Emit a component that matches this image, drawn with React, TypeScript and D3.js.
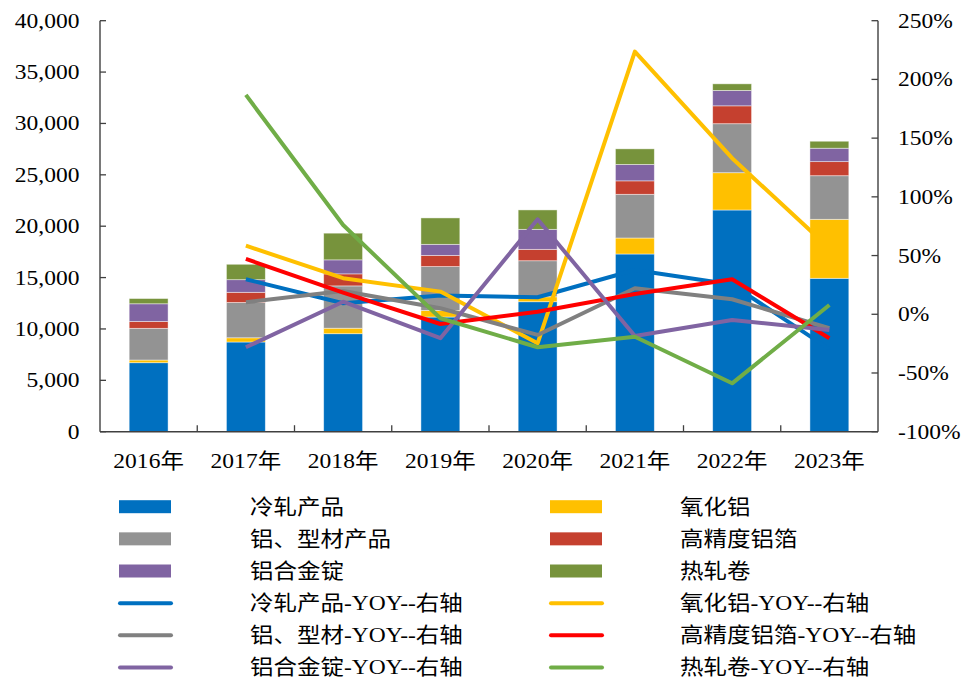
import React from "react";
import * as d3 from "d3";

// Categories (years)
const categories = ["2016年", "2017年", "2018年", "2019年", "2020年", "2021年", "2022年", "2023年"];

// Stacked bar series (left axis)
const coldRolled = [6715, 8730, 9537, 11160, 12650, 17294, 21576, 14929];
const alumina = [260, 410, 536, 640, 482, 1557, 3630, 5742];
const profiles = [3085, 3435, 4117, 4270, 3506, 4253, 4769, 4243];
const foil = [670, 990, 1172, 1090, 1110, 1310, 1740, 1370];
const alloyIngot = [1720, 1230, 1362, 1075, 1946, 1595, 1498, 1305];
const hotRolled = [510, 1500, 2598, 2570, 1890, 1519, 642, 681];

// YOY line series (right axis, %)
const coldRolledYoy = [null, 29.8, 9.4, 15.9, 14.5, 37.7, 25.3, -29.7];
const aluminaYoy = [null, 58.4, 30.7, 19.3, -24.7, 223.7, 132.9, 56.3];
const profilesYoy = [null, 10.2, 19.8, 5.1, -17.6, 22.1, 12.8, -11.9];
const foilYoy = [null, 47.1, 18.4, -8.3, 2.2, 17.3, 29.8, -20.4];
const alloyIngotYoy = [null, -28.1, 10.7, -20.4, 80.9, -18.5, -4.9, -13.4];
const hotRolledYoy = [null, 186.8, 76.0, -3.4, -28.1, -19.1, -58.8, 7.9];

const leftTicks = [0, 5000, 10000, 15000, 20000, 25000, 30000, 35000, 40000];
const rightTicks = [-100, -50, 0, 50, 100, 150, 200, 250];

const barSeries = [
  { name: "冷轧产品", values: coldRolled, color: "#0070C0" },
  { name: "氧化铝", values: alumina, color: "#FFC000" },
  { name: "铝、型材产品", values: profiles, color: "#939393" },
  { name: "高精度铝箔", values: foil, color: "#C5402F" },
  { name: "铝合金锭", values: alloyIngot, color: "#8064A2" },
  { name: "热轧卷", values: hotRolled, color: "#77933C" },
];

const lineSeries = [
  { name: "冷轧产品-YOY--右轴", values: coldRolledYoy, color: "#0070C0" },
  { name: "氧化铝-YOY--右轴", values: aluminaYoy, color: "#FFC000" },
  { name: "铝、型材-YOY--右轴", values: profilesYoy, color: "#808080" },
  { name: "高精度铝箔-YOY--右轴", values: foilYoy, color: "#FF0000" },
  { name: "铝合金锭-YOY--右轴", values: alloyIngotYoy, color: "#8064A2" },
  { name: "热轧卷-YOY--右轴", values: hotRolledYoy, color: "#70AD47" },
];

const W = 971;
const H = 680;
const plot = { left: 100, right: 878, top: 20.7, bottom: 431.7 };
const FONT = "'Liberation Serif', 'Times New Roman', 'Noto Sans CJK SC', serif";
const FS = 21;
const SX = 1.12;
const AXIS = "#404040";

function Label({ x, y, anchor = "start", children, baseline }: any) {
  return (
    <text
      transform={`translate(${x},${y}) scale(${SX},1)`}
      textAnchor={anchor}
      dominantBaseline={baseline}
      fontFamily={FONT}
      fontSize={FS}
      fill="#000"
    >
      {children}
    </text>
  );
}

export default function App() {
  const x = d3
    .scaleBand<string>()
    .domain(categories)
    .range([plot.left, plot.right])
    .paddingInner(0.6)
    .paddingOuter(0.3);
  const yL = d3.scaleLinear().domain([0, 40000]).range([plot.bottom, plot.top]);
  const yR = d3.scaleLinear().domain([-100, 250]).range([plot.bottom, plot.top]);
  const step = x.step();
  const cx = (c: string) => (x(c) as number) + x.bandwidth() / 2;

  const stackData = categories.map((c, i) => {
    const row: any = { cat: c };
    barSeries.forEach((s) => (row[s.name] = s.values[i]));
    return row;
  });
  const stacked = d3.stack<any>().keys(barSeries.map((s) => s.name))(stackData);

  const line = d3
    .line<any>()
    .defined((d) => d.v != null)
    .x((d) => cx(d.c))
    .y((d) => yR(d.v));

  const fmt = d3.format(",");
  const legendRowY = (r: number) => 506.7 + r * 32.15;
  const legendSwatchX = [119, 550];
  const legendTextX = [250, 680];
  const legendItems = [
    ...barSeries.map((s) => ({ ...s, kind: "bar" })),
    ...lineSeries.map((s) => ({ ...s, kind: "line" })),
  ];

  return (
    <svg width={W} height={H} style={{ position: "absolute", left: 0, top: 0, background: "#fff" }}>
      <rect width={W} height={H} fill="#fff" />

      {/* stacked bars */}
      {stacked.map((layer, li) => (
        <g key={layer.key} fill={barSeries[li].color}>
          {layer.map((d, i) => (
            <rect
              key={i}
              x={x(categories[i])}
              width={x.bandwidth()}
              y={yL(d[1])}
              height={yL(d[0]) - yL(d[1])}
              stroke="#ffffff"
              strokeOpacity={0.55}
              strokeWidth={0.8}
            />
          ))}
        </g>
      ))}

      {/* YOY lines */}
      {lineSeries.map((s) => (
        <path
          key={s.name}
          d={line(categories.map((c, i) => ({ c, v: s.values[i] }))) || ""}
          fill="none"
          stroke={s.color}
          strokeWidth={4}
          strokeLinejoin="round"
        />
      ))}

      {/* left axis */}
      <line x1={plot.left} x2={plot.left} y1={plot.top} y2={plot.bottom} stroke={AXIS} strokeWidth={1.4} />
      {leftTicks.map((t) => (
        <g key={t}>
          <line x1={plot.left} x2={plot.left + 6} y1={yL(t)} y2={yL(t)} stroke={AXIS} strokeWidth={1.3} />
          <Label x={79.5} y={yL(t) + 7} anchor="end">
            {fmt(t)}
          </Label>
        </g>
      ))}

      {/* right axis */}
      <line x1={plot.right} x2={plot.right} y1={plot.top} y2={plot.bottom} stroke={AXIS} strokeWidth={1.4} />
      {rightTicks.map((t) => (
        <g key={t}>
          <line x1={plot.right - 6.5} x2={plot.right} y1={yR(t)} y2={yR(t)} stroke={AXIS} strokeWidth={1.3} />
          <Label x={898} y={yR(t) + 7}>
            {`${t}%`}
          </Label>
        </g>
      ))}

      {/* category axis */}
      <line x1={plot.left} x2={plot.right} y1={plot.bottom} y2={plot.bottom} stroke={AXIS} strokeWidth={1.4} />
      {categories.slice(1).map((c) => {
        const bx = (x(c) as number) - (step - x.bandwidth()) / 2;
        return <line key={c} x1={bx} x2={bx} y1={plot.bottom} y2={plot.bottom - 6.5} stroke={AXIS} strokeWidth={1.3} />;
      })}
      {categories.map((c) => (
        <Label key={c} x={cx(c)} y={468} anchor="middle">
          {c}
        </Label>
      ))}

      {/* legend */}
      {legendItems.map((item, k) => {
        const row = Math.floor(k / 2);
        const col = k % 2;
        const yy = legendRowY(row);
        return (
          <g key={item.name}>
            {item.kind === "bar" ? (
              <rect x={legendSwatchX[col]} y={yy - 6.5} width={52} height={13} fill={item.color} />
            ) : (
              <line
                x1={legendSwatchX[col] + 1}
                x2={legendSwatchX[col] + 52}
                y1={yy}
                y2={yy}
                stroke={item.color}
                strokeWidth={4}
                strokeLinecap="round"
              />
            )}
            <Label x={legendTextX[col]} y={yy + 7}>
              {item.name}
            </Label>
          </g>
        );
      })}
    </svg>
  );
}
